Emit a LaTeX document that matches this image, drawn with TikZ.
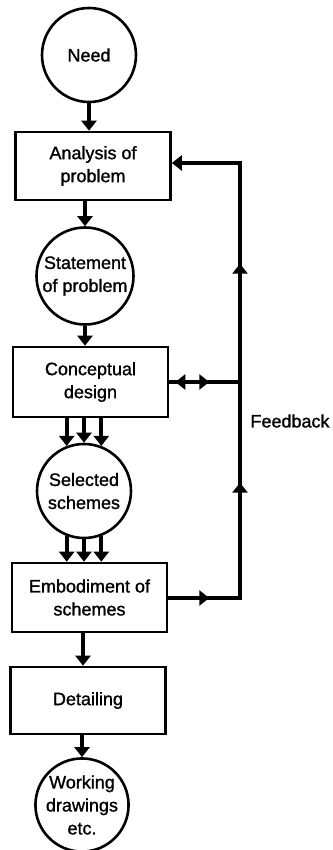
\documentclass[tikz,border=0pt]{standalone}
\usepackage{fontspec}
\setmainfont{Liberation Sans}[BoldFont={Liberation Sans}, BoldFeatures={FakeBold=1.2}]
\usetikzlibrary{arrows.meta,decorations.markings,calc}
\begin{document}
\begin{tikzpicture}[x=1pt,y=-1pt,
  every node/.style={font=\fontsize{18}{23}\selectfont\bfseries, align=center},
  circ/.style={draw, circle, line width=2.6pt, inner sep=0pt, minimum size=#1},
  boxn/.style={draw, rectangle, line width=2.6pt, inner sep=0pt, minimum width=155pt, minimum height=68pt},
  tip/.style={-{Triangle[width=15pt,length=10pt]}},
  conn/.style={line width=4pt, tip},
  fb/.style={line width=4.2pt}
]
\useasboundingbox[fill=white] (0,0) rectangle (332,850);
\node[circ=94pt] (need) at (89,55) {Need};
\node[boxn] (ana) at (93,166) {Analysis of\\problem};
\node[circ=97pt] (stmt) at (85,276) {Statement\\of problem};
\node[boxn, minimum height=70pt] (conc) at (90.5,382) {Conceptual\\design};
\node[circ=94pt] (sel) at (84,491) {Selected\\schemes};
\node[boxn, minimum height=69pt] (emb) at (89.5,597.5) {Embodiment of\\schemes};
\node[boxn, minimum height=67pt] (det) at (88,700.5) {Detailing};
\node[circ=93pt] (work) at (82,805) {Working\\drawings\\etc.};
\node (fblabel) at (290,421) {Feedback};
\coordinate (fbbot) at (240,598);
\coordinate (fbtop) at (240,163);
\coordinate (fbmid) at (240,382);

\draw[conn] (need.south) -- (need.south |- ana.north);
\draw[conn] (stmt.north |- ana.south) -- (stmt.north);
\draw[conn] (stmt.south) -- (stmt.south |- conc.north);
\foreach \a in {111,90,69} \draw[conn] (conc.south -| sel.\a) -- (sel.\a);
\foreach \a in {249,270,291} \draw[conn] (sel.\a) -- (sel.\a |- emb.north);
\draw[conn] (emb.south -| 83,0) -- (det.north -| 83,0);
\draw[conn] (det.south -| work.north) -- (work.north);

\draw[fb, line join=miter, tip, postaction=decorate,
  decoration={markings,
    mark=at position 41pt with {\arrow{Triangle[width=15pt,length=10pt]}},
    mark=at position 187pt with {\arrow{Triangle[width=15pt,length=10pt]}},
    mark=at position 406pt with {\arrow{Triangle[width=15pt,length=10pt]}}}]
  (emb.east |- fbbot) -- (fbbot) -- (fbtop) -- (fbtop -| ana.east);
\draw[fb, postaction=decorate,
  decoration={markings,
    mark=at position 6pt with {\arrowreversed{Triangle[width=15pt,length=10pt]}},
    mark=at position 40pt with {\arrow{Triangle[width=15pt,length=10pt]}}}]
  (conc.east |- fbmid) -- (fbmid);
\end{tikzpicture}
\end{document}
